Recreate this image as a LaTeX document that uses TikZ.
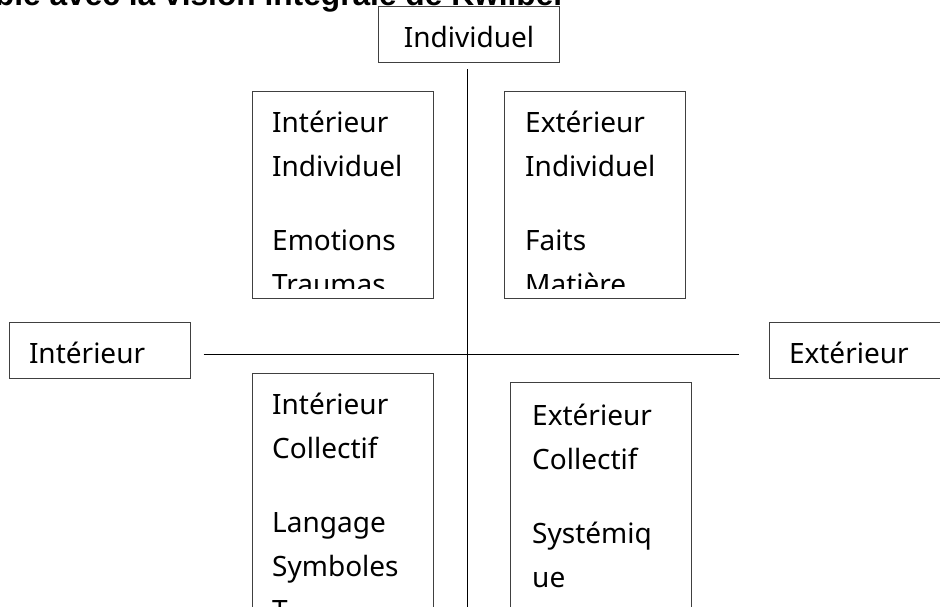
\documentclass[tikz,border=0pt]{standalone}
\usepackage{fontspec}
\setmainfont{Noto Sans}
\newfontfamily\titlefont{Liberation Sans}
\usepackage{tikz}
\usetikzlibrary{positioning,calc}

\begin{document}
\begin{tikzpicture}[x=1pt, y=-1pt,
  every node/.style={font=\fontsize{28}{44}\selectfont},
  quad/.style={draw=black!75, line width=1pt, minimum width=181pt, minimum height=207pt, inner sep=0pt, anchor=north west},
  quadtext/.style={anchor=base west, align=left, inner sep=0pt},
  axisbox/.style={draw=black!75, line width=1pt, inner xsep=20pt, inner ysep=0pt, text width=141pt, minimum height=56pt, text height=26pt, text depth=0pt},
  axis/.style={draw=black, line width=1pt}
]
\clip (0,0) rectangle (940,607);

% title, cut at the top
\node[anchor=base east, inner sep=0pt, font=\titlefont\bfseries\fontsize{31.7}{32}\selectfont] (title) at (566,6) {ble avec la vision intégrale de Kwilber};

% axes
\node[axisbox, align=center] (ind) at (469,35) {Individuel};
\node[axisbox, align=left] (int) at (99.5,350) {Intérieur};
\node[axisbox, align=left] (ext) at (859.5,350) {Extérieur};
\coordinate (cross) at (467,354);
\coordinate (axisend) at (467,612);
\draw[axis] ([yshift=-6pt]ind.south -| cross) -- (axisend);
\draw[axis] ([xshift=13pt]int.east |- cross) -- ([xshift=-30pt]ext.west |- cross);

% quadrants (text base = last line)
\node[quad] (tl) at (252,91) {};
\node[quad] (tr) at (504,91) {};
\node[quad, minimum height=260pt] (bl) at (252,373) {};
\node[quad, minimum height=260pt] (br) at (510,382) {};

\begin{scope}
  \clip (252,91) rectangle (432,288);
  \node[quadtext] (tltext) at ([xshift=20pt,yshift=-203pt]tl.north west) {Intérieur\\Individuel\\[30pt]Emotions\\Traumas};
\end{scope}
\begin{scope}
  \clip (504,91) rectangle (686,288);
  \node[quadtext] (trtext) at ([xshift=21pt,yshift=-203pt]tr.north west) {Extérieur\\Individuel\\[30pt]Faits\\Matière};
\end{scope}
\node[quadtext] (bltext) at ([xshift=20pt,yshift=-247pt]bl.north west) {Intérieur\\Collectif\\[30pt]Langage\\Symboles\\T};
\node[quadtext] (brtext) at ([xshift=22pt,yshift=-205pt]br.north west) {Extérieur\\Collectif\\[30pt]Systémiq\\ue};
\end{tikzpicture}
\end{document}
